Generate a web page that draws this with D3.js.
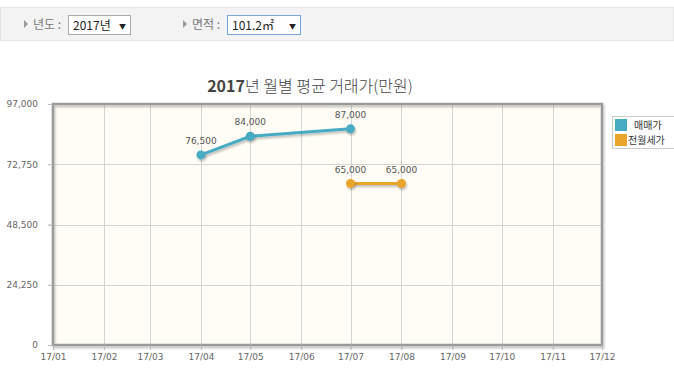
<!DOCTYPE html>
<html>
<head>
<meta charset="utf-8">
<script src="https://cdn.jsdelivr.net/npm/d3@7"></script>
<style>
  body { margin: 0; background: #fff; font-family: "Noto Sans CJK KR", "Noto Sans", sans-serif; }
  svg { display: block; }
</style>
</head>
<body>
<svg width="674" height="372"></svg>
<script>
const months = ['2017-01', '2017-02', '2017-03', '2017-04', '2017-05', '2017-06',
                '2017-07', '2017-08', '2017-09', '2017-10', '2017-11', '2017-12'];
const saleMonths = ['2017-04', '2017-05', '2017-07'];
const saleValues = [76500, 84000, 87000];
const rentMonths = ['2017-07', '2017-08'];
const rentValues = [65000, 65000];
const yTicks = [0, 24250, 48500, 72750, 97000];
const seriesNames = ['매매가', '전월세가'];
const seriesColors = ['#47abc4', '#e9a42c'];

const parse = d3.timeParse('%Y-%m');
const svg = d3.select('svg');

// filter bar
const bar = svg.append('g');
bar.append('rect').attr('x', 0.5).attr('y', 7.5).attr('width', 673).attr('height', 33)
    .attr('fill', '#f3f3f3').attr('stroke', '#e2e2e2');

function filter(x, label, value, w, active) {
    const g = bar.append('g').attr('transform', `translate(${x}, 0)`);
    g.append('path').attr('d', 'M0,20 L4,24 L0,28 Z').attr('fill', '#999');
    g.append('text').attr('x', 9).attr('y', 29).attr('font-size', 12).attr('fill', '#777').text(label);
    g.append('rect').attr('x', 44.5).attr('y', 15.5).attr('width', w).attr('height', 19)
        .attr('fill', '#fff').attr('stroke', active ? '#7aa7d6' : '#aaa');
    g.append('text').attr('x', 49).attr('y', 30).attr('font-size', 12).attr('fill', '#222').text(value);
    g.append('text').attr('x', 44 + w - 11).attr('y', 28.5).attr('font-size', 7).attr('fill', '#222').text('▼');
}
filter(24, '년도 :', '2017년', 62, false);
filter(183, '면적 :', '101.2㎡', 73, true);

// chart
const plotLeft = 53, plotRight = 602, plotTop = 104, plotBottom = 345;
const xScale = d3.scaleTime().domain([parse(months[0]), parse(months[months.length - 1])]).range([plotLeft, plotRight]);
const yScale = d3.scaleLinear().domain([0, 97000]).range([plotBottom, plotTop]);

const defs = svg.append('defs');
const shadow = defs.append('filter').attr('id', 'sh').attr('filterUnits', 'userSpaceOnUse')
    .attr('x', 0).attr('y', 0).attr('width', 674).attr('height', 372);
shadow.append('feDropShadow').attr('dx', 1).attr('dy', 2).attr('stdDeviation', 1).attr('flood-color', '#000').attr('flood-opacity', 0.25);

svg.append('text').attr('x', 310).attr('y', 92).attr('text-anchor', 'middle')
    .attr('font-size', 16).attr('fill', '#444')
    .call(t => {
        t.append('tspan').attr('font-weight', 'bold').text('2017');
        t.append('tspan').attr('font-weight', 300).text('년 월별 평균 거래가(만원)');
    });

svg.append('rect').attr('x', plotLeft).attr('y', plotTop).attr('width', plotRight - plotLeft).attr('height', plotBottom - plotTop)
    .attr('fill', '#fffdf5');

const grid = svg.append('g').attr('stroke', '#d4d4d4').attr('stroke-width', 1);
grid.selectAll('.v').data(months.slice(1, -1)).enter().append('line')
    .attr('x1', d => Math.round(xScale(parse(d))) + 0.5).attr('x2', d => Math.round(xScale(parse(d))) + 0.5)
    .attr('y1', plotTop).attr('y2', plotBottom + 4);
grid.selectAll('.h').data(yTicks.slice(1, -1)).enter().append('line')
    .attr('x1', plotLeft - 4).attr('x2', plotRight)
    .attr('y1', d => Math.round(yScale(d)) + 0.5).attr('y2', d => Math.round(yScale(d)) + 0.5);

// frame
svg.append('rect').attr('x', plotLeft).attr('y', plotTop).attr('width', plotRight - plotLeft).attr('height', plotBottom - plotTop)
    .attr('fill', 'none').attr('stroke', '#9a9a9a').attr('stroke-width', 2.5).attr('filter', 'url(#sh)');

const yAxis = svg.append('g').attr('transform', `translate(${plotLeft}, 0)`)
    .call(d3.axisLeft(yScale).tickValues(yTicks).tickSize(5).tickPadding(10).tickFormat(d3.format(',')));
yAxis.select('.domain').remove();
yAxis.selectAll('line').attr('stroke', '#bbb');
yAxis.selectAll('text').attr('fill', '#666').attr('font-size', 9).attr('font-family', 'DejaVu Sans, sans-serif');

const xAxis = svg.append('g').attr('transform', `translate(0, ${plotBottom})`)
    .call(d3.axisBottom(xScale).tickValues(months.map(parse)).tickSize(5).tickPadding(4).tickFormat(d3.timeFormat('%y/%m')));
xAxis.select('.domain').remove();
xAxis.selectAll('line').attr('stroke', '#bbb');
xAxis.selectAll('text').attr('fill', '#666').attr('font-size', 9).attr('font-family', 'DejaVu Sans, sans-serif');

function series(ms, vs, color) {
    const pts = ms.map((m, i) => ({ date: parse(m), value: vs[i] }));
    const g = svg.append('g');
    g.append('path').datum(pts)
        .attr('d', d3.line().x(d => xScale(d.date)).y(d => yScale(d.value)))
        .attr('fill', 'none').attr('stroke', color).attr('stroke-width', 3).attr('filter', 'url(#sh)');
    g.selectAll('circle').data(pts).enter().append('circle')
        .attr('cx', d => xScale(d.date)).attr('cy', d => yScale(d.value)).attr('r', 4.5)
        .attr('fill', color).attr('filter', 'url(#sh)');
    g.selectAll('text').data(pts).enter().append('text')
        .attr('x', d => xScale(d.date)).attr('y', d => yScale(d.value) - 11)
        .attr('text-anchor', 'middle').attr('font-size', 9).attr('fill', '#555')
        .attr('font-family', 'DejaVu Sans, sans-serif')
        .text(d => d3.format(',')(d.value));
}
series(saleMonths, saleValues, seriesColors[0]);
series(rentMonths, rentValues, seriesColors[1]);

// legend
const legend = svg.append('g').attr('transform', 'translate(612, 116)');
legend.append('rect').attr('x', 0.5).attr('y', 0.5).attr('width', 62).attr('height', 32)
    .attr('fill', '#fff').attr('stroke', '#ccc');
seriesNames.forEach((name, i) => {
    legend.append('rect').attr('x', 3).attr('y', 3 + i * 15).attr('width', 12).attr('height', 12).attr('fill', seriesColors[i]);
    legend.append('text').attr('x', i === 0 ? 22 : 16).attr('y', 13 + i * 15).attr('font-size', 10).attr('fill', '#333').text(name);
});
</script>
</body>
</html>
